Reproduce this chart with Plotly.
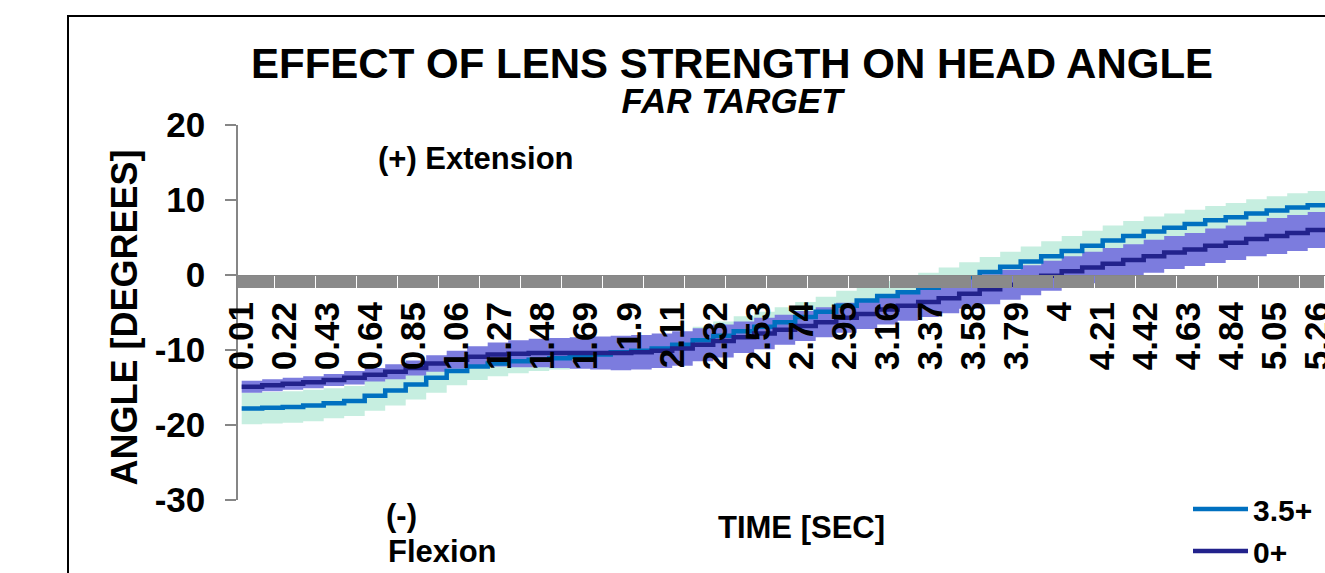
import plotly.graph_objects as go

# Sample times (s): head angle sampled every 0.1 s, first sample at 0.01 s
time_s = [round(0.01 + 0.1 * k, 2) for k in range(54)]

# Mean head angle (degrees) for the 3.5+ lens
angle_35 = [-17.8, -17.7, -17.6, -17.4, -17.1, -16.8, -16.1, -15.4, -14.6, -13.7,
            -12.8, -12.2, -11.8, -11.5, -11.3, -11.1, -10.9, -10.6, -10.3, -10.1,
            -9.8, -9.3, -8.7, -8.1, -7.5, -6.9, -6.3, -5.6, -4.9, -4.1,
            -3.4, -2.8, -2.3, -1.7, -1.0, -0.3, 0.4, 1.1, 1.8, 2.5,
            3.2, 3.9, 4.6, 5.2, 5.8, 6.3, 6.8, 7.3, 7.7, 8.2,
            8.6, 9.0, 9.3, 9.6]
# Spread (+/- degrees) for the 3.5+ lens
spread_35 = [2.1, 2.1, 2.1, 2.1, 2.0, 2.0, 2.0, 2.0, 2.0, 2.0,
             1.9, 1.8, 1.7, 1.6, 1.5, 1.5, 1.5, 1.5, 1.5, 1.6,
             1.6, 1.7, 1.8, 1.9, 2.0, 2.0, 2.0, 2.0, 2.0, 2.0,
             2.0, 2.0, 2.0, 2.0, 2.0, 2.0, 2.0, 2.0, 2.0, 2.0,
             2.0, 2.0, 2.0, 2.0, 2.0, 1.9, 1.9, 1.9, 1.9, 1.9,
             1.9, 1.9, 1.9, 1.9]

# Mean head angle (degrees) for the 0+ lens
angle_0 = [-14.9, -14.7, -14.5, -14.3, -14.0, -13.7, -13.3, -12.9, -12.4, -11.8,
           -11.3, -10.9, -10.6, -10.5, -10.4, -10.4, -10.4, -10.4, -10.4, -10.3,
           -10.1, -9.8, -9.3, -8.8, -8.3, -7.8, -7.3, -6.8, -6.3, -5.7,
           -5.2, -4.6, -4.1, -3.6, -3.1, -2.5, -1.9, -1.3, -0.7, -0.1,
           0.5, 1.0, 1.5, 2.0, 2.5, 3.0, 3.4, 3.9, 4.3, 4.8,
           5.2, 5.6, 6.0, 6.4]
# Spread (+/- degrees) for the 0+ lens
spread_0 = [0.8, 0.8, 0.8, 0.8, 0.8, 0.9, 0.9, 1.0, 1.0, 1.1,
            1.2, 1.4, 1.6, 1.8, 1.9, 2.0, 2.1, 2.2, 2.3, 2.3,
            2.3, 2.3, 2.2, 2.2, 2.1, 2.1, 2.0, 2.0, 2.0, 2.0,
            2.0, 2.0, 2.0, 2.0, 2.0, 2.0, 2.0, 2.0, 2.0, 2.0,
            2.0, 2.1, 2.1, 2.1, 2.2, 2.2, 2.2, 2.3, 2.3, 2.3,
            2.4, 2.4, 2.4, 2.4]

# Category labels shown along the time axis
tick_times = [0.01, 0.22, 0.43, 0.64, 0.85, 1.06, 1.27, 1.48, 1.69, 1.9,
              2.11, 2.32, 2.53, 2.74, 2.95, 3.16, 3.37, 3.58, 3.79, 4.0,
              4.21, 4.42, 4.63, 4.84, 5.05, 5.26]
tick_labels = ["0.01", "0.22", "0.43", "0.64", "0.85", "1.06", "1.27", "1.48", "1.69", "1.9",
               "2.11", "2.32", "2.53", "2.74", "2.95", "3.16", "3.37", "3.58", "3.79", "4",
               "4.21", "4.42", "4.63", "4.84", "5.05", "5.26"]
y_ticks = [-30, -20, -10, 0, 10, 20]
y_tick_labels = ["-30", "-20", "-10", "0", "10", "20"]

FONT = "Liberation Sans, Arial, sans-serif"
BLUE = "#0070C0"
NAVY = "#22228C"
MINT = "rgba(198,238,224,1)"
PURPLE = "rgba(124,124,222,1)"
AXIS_GRAY = "#868686"

W, H = 1325, 573
# plot-area edges in pixels
L, R, T, B = 238, 1325, 125, 500


def fx(px):
    return px / W


def fy(py):
    return 1 - py / H


fig = go.Figure()


def band(values, spread, color):
    lower = [v - s for v, s in zip(values, spread)]
    upper = [v + s for v, s in zip(values, spread)]
    fig.add_trace(go.Scatter(x=time_s, y=lower, mode="lines", line=dict(width=0, shape="hv"),
                             showlegend=False, hoverinfo="skip"))
    fig.add_trace(go.Scatter(x=time_s, y=upper, mode="lines", line=dict(width=0, shape="hv"),
                             fill="tonexty", fillcolor=color, showlegend=False, hoverinfo="skip"))


band(angle_35, spread_35, MINT)
band(angle_0, spread_0, PURPLE)

fig.add_trace(go.Scatter(x=time_s, y=angle_35, mode="lines", name="3.5+",
                         line=dict(color=BLUE, width=4.5, shape="hv")))
fig.add_trace(go.Scatter(x=time_s, y=angle_0, mode="lines", name="0+",
                         line=dict(color=NAVY, width=4.5, shape="hv")))

bold = dict(family=FONT, color="black", weight="bold")

fig.update_layout(
    width=W, height=H,
    margin=dict(l=0, r=0, t=0, b=0, pad=0, autoexpand=False),
    paper_bgcolor="white", plot_bgcolor="white",
    xaxis=dict(
        domain=[fx(L), fx(R)],
        range=[-0.00805, 5.2944], anchor="free", position=fy(275),
        showline=True, linecolor=AXIS_GRAY, linewidth=1,
        showgrid=False, zeroline=False,
        tickmode="array", tickvals=tick_times, ticktext=tick_labels,
        tickangle=-90, tickfont=dict(size=35, **bold),
        ticks="outside", ticklen=12, tickwidth=2, tickcolor="#8a8a8a",
        ticklabelstandoff=0, ticklabeloverflow="allow",
        minor=dict(tick0=0.005, dtick=0.01, ticks="outside", ticklen=12,
                   tickwidth=1.6, tickcolor="#8a8a8a", showgrid=False),
        layer="above traces",
    ),
    yaxis=dict(
        domain=[fy(B), fy(T)],
        range=[-30, 20], tickmode="array", tickvals=y_ticks, ticktext=y_tick_labels,
        showline=True, linecolor=AXIS_GRAY, linewidth=1.5,
        showgrid=False, zeroline=False,
        ticks="outside", ticklen=11, tickwidth=1.5, tickcolor=AXIS_GRAY,
        tickfont=dict(size=35, **bold), ticklabelstandoff=13,
    ),
    legend=dict(
        x=fx(1188), y=fy(483), xanchor="left", yanchor="top",
        font=dict(size=30, **bold), bgcolor="rgba(0,0,0,0)",
        itemwidth=55, tracegroupgap=0, traceorder="normal",
    ),
    showlegend=True,
)

title_text = ("<span style='font-size:42px'>EFFECT OF LENS STRENGTH ON HEAD ANGLE</span><br>"
              "<span style='font-size:35px'><i>FAR TARGET</i></span>")

annotations = [
    dict(text=title_text, x=fx(732), y=fy(80), align="center",
         xanchor="center", yanchor="middle", font=dict(size=27, **bold)),
    dict(text="(+) Extension", x=fx(376), y=fy(158),
         xanchor="left", yanchor="middle", font=dict(size=31, **bold)),
    dict(text="(-)", x=fx(384), y=fy(515),
         xanchor="left", yanchor="middle", font=dict(size=31, **bold)),
    dict(text="Flexion", x=fx(386), y=fy(551),
         xanchor="left", yanchor="middle", font=dict(size=31, **bold)),
    dict(text="TIME [SEC]", x=fx(801.5), y=fy(527),
         xanchor="center", yanchor="middle", font=dict(size=31, **bold)),
    dict(text="ANGLE [DEGREES]", x=fx(124), y=fy(317.5), textangle=-90,
         xanchor="center", yanchor="middle", font=dict(size=36, **bold)),
]
for a in annotations:
    a.update(xref="paper", yref="paper", showarrow=False)
fig.update_layout(annotations=annotations)

# chart frame
fig.add_shape(type="rect", xref="paper", yref="paper",
              x0=fx(68), y0=fy(700), x1=fx(1500), y1=fy(16),
              line=dict(color="black", width=2), fillcolor="rgba(0,0,0,0)")

fig.write_html("out.html")
